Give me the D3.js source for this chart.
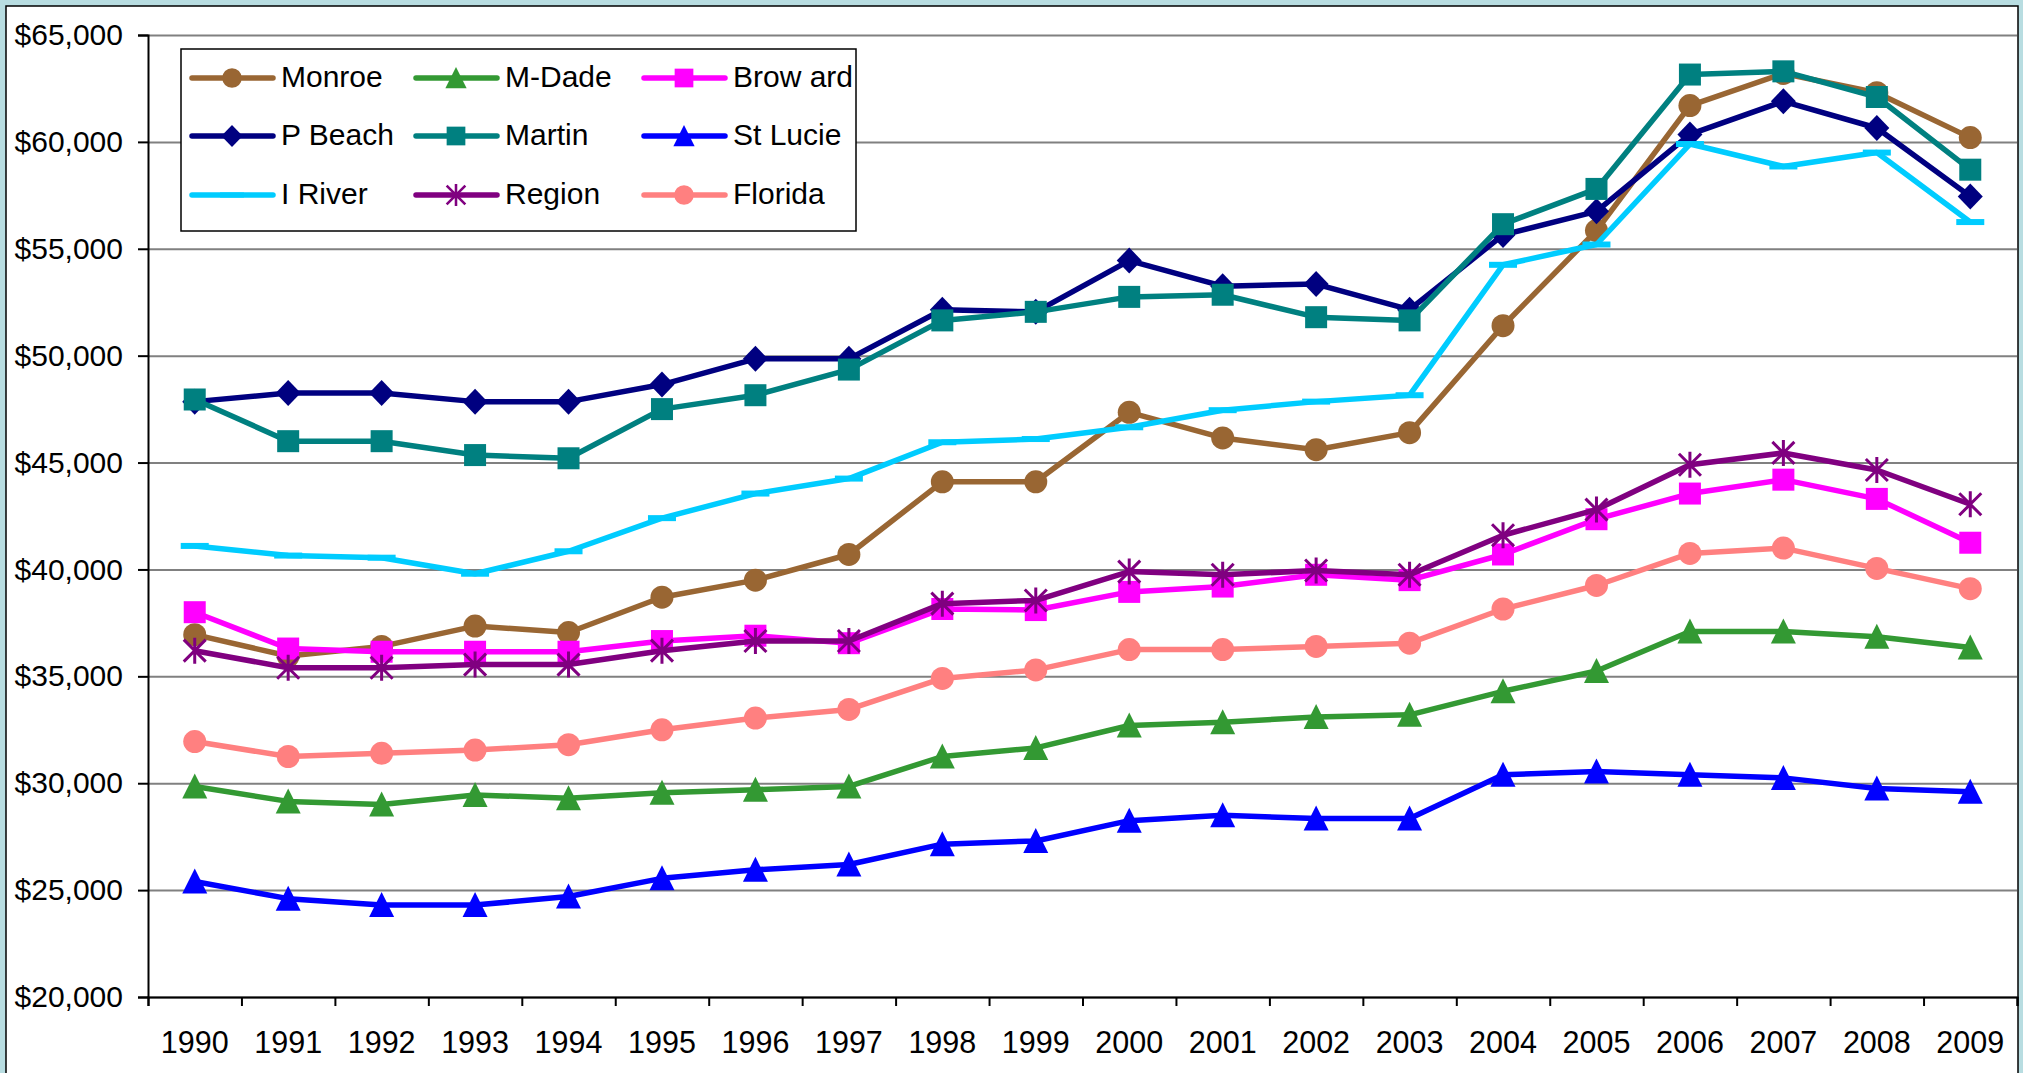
<!DOCTYPE html>
<html>
<head>
<meta charset="utf-8">
<script src="https://cdn.jsdelivr.net/npm/d3@7"></script>
<style>
  body { margin: 0; background: #b8dde1; }
  svg { display: block; font-family: "Liberation Sans", Arial, sans-serif; }
</style>
</head>
<body>
<div class="chart"></div>
<script>
"use strict";

const years = ["1990", "1991", "1992", "1993", "1994", "1995", "1996", "1997", "1998", "1999",
  "2000", "2001", "2002", "2003", "2004", "2005", "2006", "2007", "2008", "2009"];

const monroe  = [36950, 35950, 36400, 37350, 37050, 38700, 39500, 40700, 44100, 44100, 47350, 46150, 45600, 46400, 51400, 55850, 61700, 63200, 62300, 60200];
const mDade   = [29850, 29150, 29000, 29450, 29300, 29550, 29700, 29850, 31250, 31650, 32700, 32850, 33100, 33200, 34300, 35250, 37100, 37100, 36850, 36350];
const broward = [38000, 36300, 36150, 36150, 36150, 36650, 36900, 36550, 38150, 38100, 38950, 39200, 39750, 39500, 40700, 42350, 43550, 44200, 43300, 41250];
const pBeach  = [47850, 48250, 48250, 47850, 47850, 48650, 49850, 49850, 52150, 52050, 54450, 53250, 53350, 52150, 55650, 56750, 60350, 61900, 60650, 57450];
const martin  = [47950, 46000, 46000, 45350, 45200, 47500, 48150, 49350, 51650, 52050, 52750, 52850, 51800, 51650, 56150, 57800, 63150, 63300, 62100, 58700];
const stLucie = [25400, 24600, 24300, 24300, 24700, 25550, 25950, 26200, 27150, 27300, 28250, 28500, 28350, 28350, 30400, 30550, 30400, 30250, 29750, 29600];
const iRiver  = [41100, 40650, 40550, 39800, 40850, 42400, 43550, 44250, 45950, 46100, 46650, 47450, 47850, 48150, 54250, 55200, 59900, 58850, 59500, 56250];
const region  = [36200, 35400, 35400, 35550, 35550, 36200, 36650, 36650, 38400, 38550, 39900, 39750, 39950, 39750, 41600, 42800, 44900, 45450, 44650, 43050];
const florida = [31950, 31250, 31400, 31550, 31800, 32500, 33050, 33450, 34900, 35300, 36250, 36250, 36400, 36550, 38150, 39250, 40750, 41000, 40050, 39100];

const yTicks = [20000, 25000, 30000, 35000, 40000, 45000, 50000, 55000, 60000, 65000];

const seriesNames = ["Monroe", "M-Dade", "Brow ard", "P Beach", "Martin", "St Lucie", "I River", "Region", "Florida"];
const seriesValues = [monroe, mDade, broward, pBeach, martin, stLucie, iRiver, region, florida];
const seriesColors = ["#996633", "#339933", "#ff00ff", "#000080", "#008080", "#0000ff", "#00ccff", "#800080", "#ff8080"];
const seriesMarkers = ["circle", "triangle", "square", "diamond", "square", "triangle", "dash", "star", "circle"];

const W = 2023, H = 1073;
const PLOT = { left: 148, right: 2017, top: 35, bottom: 997 };
const FONT = "Liberation Sans, Arial, sans-serif";

const x = d3.scaleBand().domain(years).range([PLOT.left, PLOT.right]);
const xEdge = d3.scaleLinear().domain([0, years.length]).range([PLOT.left, PLOT.right]);
const y = d3.scaleLinear().domain([20000, 65000]).range([PLOT.bottom, PLOT.top]);
const cx = (yr) => x(yr) + x.bandwidth() / 2;

// marker shapes, centred on 0,0 (k scales them down for the legend)
function marker(g, type, color, k = 1) {
  const s = g.append("g").attr("transform", `scale(${k})`);
  if (type === "circle") {
    s.append("ellipse").attr("rx", 11.5).attr("ry", 11.5).attr("fill", color);
  } else if (type === "square") {
    s.append("rect").attr("x", -11).attr("y", -11).attr("width", 22).attr("height", 22).attr("fill", color);
  } else if (type === "diamond") {
    s.append("path").attr("d", "M0,-13L12.5,0L0,13L-12.5,0Z").attr("fill", color);
  } else if (type === "triangle") {
    s.append("path").attr("d", "M0,-13L12.5,12L-12.5,12Z").attr("fill", color);
  } else if (type === "dash") {
    s.append("rect").attr("x", -14).attr("y", -3).attr("width", 28).attr("height", 6).attr("fill", color);
  } else if (type === "star") {
    s.append("path")
      .attr("d", "M0,-13L0,13M-11,-11L11,11M-11,11L11,-11")
      .attr("stroke", color).attr("stroke-width", 3).attr("fill", "none");
  }
}

const svg = d3.select(".chart").append("svg").attr("width", W).attr("height", H);

// white chart panel
svg.append("rect")
  .attr("x", 6).attr("y", 6).attr("width", 2012).attr("height", 1100)
  .attr("fill", "#fff").attr("stroke", "#000").attr("stroke-width", 1.5);

// gridlines
svg.append("g")
  .attr("transform", `translate(${PLOT.left},0)`)
  .call(d3.axisLeft(y).tickValues(yTicks).tickSize(-(PLOT.right - PLOT.left)).tickFormat(""))
  .call((g) => g.select(".domain").remove())
  .call((g) => g.selectAll("line").attr("stroke", "#808080").attr("stroke-width", 2));

// y axis
svg.append("g")
  .attr("transform", `translate(${PLOT.left},0)`)
  .call(d3.axisLeft(y).tickValues(yTicks).tickSize(10).tickPadding(15).tickFormat(d3.format("$,")))
  .call((g) => g.select(".domain").attr("stroke", "#000").attr("stroke-width", 2))
  .call((g) => g.selectAll("line").attr("stroke", "#000").attr("stroke-width", 2))
  .call((g) => g.selectAll("text").attr("font-size", 30).attr("fill", "#000").attr("font-family", FONT));

// x axis: ticks between categories
svg.append("g")
  .attr("transform", `translate(0,${PLOT.bottom})`)
  .call(d3.axisBottom(xEdge).tickValues(d3.range(years.length + 1)).tickSize(9).tickFormat(""))
  .call((g) => g.select(".domain").attr("stroke", "#000").attr("stroke-width", 2))
  .call((g) => g.selectAll("line").attr("stroke", "#000").attr("stroke-width", 2));

svg.append("g")
  .attr("transform", `translate(0,${PLOT.bottom})`)
  .call(d3.axisBottom(x).tickSize(0).tickPadding(34))
  .call((g) => g.select(".domain").remove())
  .call((g) => g.selectAll("text").attr("font-size", 30.5).attr("fill", "#000").attr("font-family", FONT));

// series
const line = d3.line().x((d, i) => cx(years[i])).y((d) => y(d));

seriesValues.forEach((vals, s) => {
  const g = svg.append("g");
  g.append("path")
    .attr("d", line(vals))
    .attr("fill", "none")
    .attr("stroke", seriesColors[s])
    .attr("stroke-width", 5.5)
    .attr("stroke-linejoin", "round");
  g.selectAll(".m")
    .data(vals)
    .enter()
    .append("g")
    .attr("transform", (d, i) => `translate(${cx(years[i])},${y(d)})`)
    .each(function () { marker(d3.select(this), seriesMarkers[s], seriesColors[s]); });
});

// legend
const legend = svg.append("g");
legend.append("rect")
  .attr("x", 181).attr("y", 49).attr("width", 675).attr("height", 182)
  .attr("fill", "#fff").attr("stroke", "#000").attr("stroke-width", 1.5);

const colX = [192, 416, 644];
const rowY = [78, 136, 195];
seriesNames.forEach((name, s) => {
  const lx = colX[s % 3], ly = rowY[Math.floor(s / 3)];
  legend.append("line")
    .attr("x1", lx).attr("x2", lx + 81).attr("y1", ly).attr("y2", ly)
    .attr("stroke", seriesColors[s]).attr("stroke-width", 5.5).attr("stroke-linecap", "round");
  const m = legend.append("g").attr("transform", `translate(${lx + 40},${ly})`);
  marker(m, seriesMarkers[s], seriesColors[s], 0.85);
  legend.append("text")
    .attr("x", lx + 89).attr("y", ly + 9)
    .attr("font-size", 30)
    .attr("font-family", FONT)
    .text(name);
});
</script>
</body>
</html>
